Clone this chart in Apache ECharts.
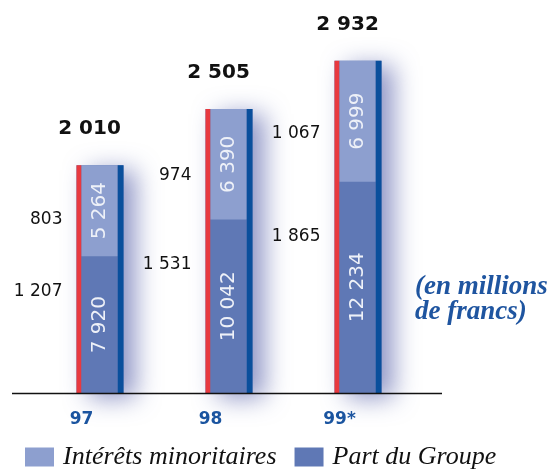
<!DOCTYPE html>
<html>
<head>
<meta charset="utf-8">
<script src="https://cdn.jsdelivr.net/npm/echarts@6/dist/echarts.min.js"></script>
<style>
  html, body { margin: 0; padding: 0; background: #fff; }
  #chart { width: 553px; height: 470px; }
</style>
</head>
<body>
<div id="chart"></div>
<script>
// données (millions de francs)
const years = ['97', '98', '99*'];
const partGroupe = [1207, 1531, 1865];
const interetsMin = [803, 974, 1067];
const partGroupeInner = ['7 920', '10 042', '12 234'];
const interetsMinInner = ['5 264', '6 390', '6 999'];
const totals = ['2 010', '2 505', '2 932'];

const fmt = v => String(v).replace(/\B(?=(\d{3})+(?!\d))/g, ' ');

const chart = echarts.init(document.getElementById('chart'));

// bordures rouge/bleue, ombre, valeurs à gauche et totaux
function renderFrame(params, api) {
  const i = api.value(0);
  const part = api.value(1);
  const minor = api.value(2);
  const base = api.coord([i, 0]);
  const mid = api.coord([i, part]);
  const top = api.coord([i, part + minor]);
  const cx = base[0];
  const h = base[1] - top[1];
  const labelX = cx - 37;
  return {
    type: 'group',
    children: [
      { type: 'rect', shape: { x: cx - 23, y: top[1], width: 47, height: h },
        style: { fill: '#5f78b5', shadowBlur: 24, shadowOffsetX: 12, shadowOffsetY: 5, shadowColor: 'rgba(70,80,160,0.6)' } },
      { type: 'rect', shape: { x: cx - 23, y: top[1], width: 5, height: h }, style: { fill: '#e8393f' } },
      { type: 'rect', shape: { x: cx + 18, y: top[1], width: 6, height: h }, style: { fill: '#0a4f9c' } },
      { type: 'text', style: { text: fmt(part), x: labelX, y: base[1] - (base[1] - mid[1]) * 0.74,
          align: 'right', verticalAlign: 'middle', fill: '#111', font: '17px "DejaVu Sans"' } },
      { type: 'text', style: { text: fmt(minor), x: labelX, y: mid[1] - (mid[1] - top[1]) * 0.4,
          align: 'right', verticalAlign: 'middle', fill: '#111', font: '17px "DejaVu Sans"' } },
      { type: 'text', style: { text: totals[params.dataIndex], x: cx - 10, y: top[1] - 36,
          align: 'center', verticalAlign: 'middle', fill: '#111', font: 'bold 20px "DejaVu Sans"' } }
    ]
  };
}

const innerLabel = arr => ({
  show: true,
  position: 'inside',
  rotate: 90,
  color: '#eef1f8',
  fontFamily: 'DejaVu Sans',
  fontSize: 20,
  formatter: p => arr[p.dataIndex]
});

const option = {
  animation: false,
  grid: { left: 35, right: 131, top: 53, bottom: 77 },
  xAxis: {
    type: 'category',
    data: years,
    axisLine: { show: false },
    axisTick: { show: false },
    axisLabel: {
      color: '#1b55a0', fontFamily: 'DejaVu Sans', fontWeight: 'bold', fontSize: 17,
      margin: 18, padding: [0, 36, 0, 0]
    }
  },
  yAxis: { type: 'value', min: 0, max: 3000, show: false, splitLine: { show: false } },
  legend: {
    data: ['Intérêts minoritaires', 'Part du Groupe'],
    left: 20,
    top: 439,
    icon: 'rect',
    itemWidth: 29,
    itemHeight: 19,
    itemGap: 18,
    textStyle: { fontFamily: 'Liberation Serif', fontStyle: 'italic', fontSize: 26, color: '#111', padding: [0, 0, 0, 4] }
  },
  graphic: [
    { type: 'line', shape: { x1: 12, y1: 393.5, x2: 442, y2: 393.5 }, style: { stroke: '#111', lineWidth: 1.5 }, z: 10 },
    { type: 'text', left: 415, top: 274,
      style: { text: '(en millions\nde francs)', font: 'italic bold 27px "Liberation Serif"', fill: '#1f55a0', lineHeight: 25 } }
  ],
  series: [
    {
      type: 'custom',
      z: 1,
      renderItem: renderFrame,
      data: years.map((y, i) => [i, partGroupe[i], interetsMin[i]])
    },
    {
      name: 'Part du Groupe',
      type: 'bar',
      stack: 'total',
      barWidth: 36,
      z: 3,
      itemStyle: { color: '#5f78b5' },
      label: innerLabel(partGroupeInner),
      data: partGroupe
    },
    {
      name: 'Intérêts minoritaires',
      type: 'bar',
      stack: 'total',
      barWidth: 36,
      z: 3,
      itemStyle: { color: '#8d9fcf' },
      label: innerLabel(interetsMinInner),
      data: interetsMin
    }
  ]
};

chart.setOption(option);
</script>
</body>
</html>
